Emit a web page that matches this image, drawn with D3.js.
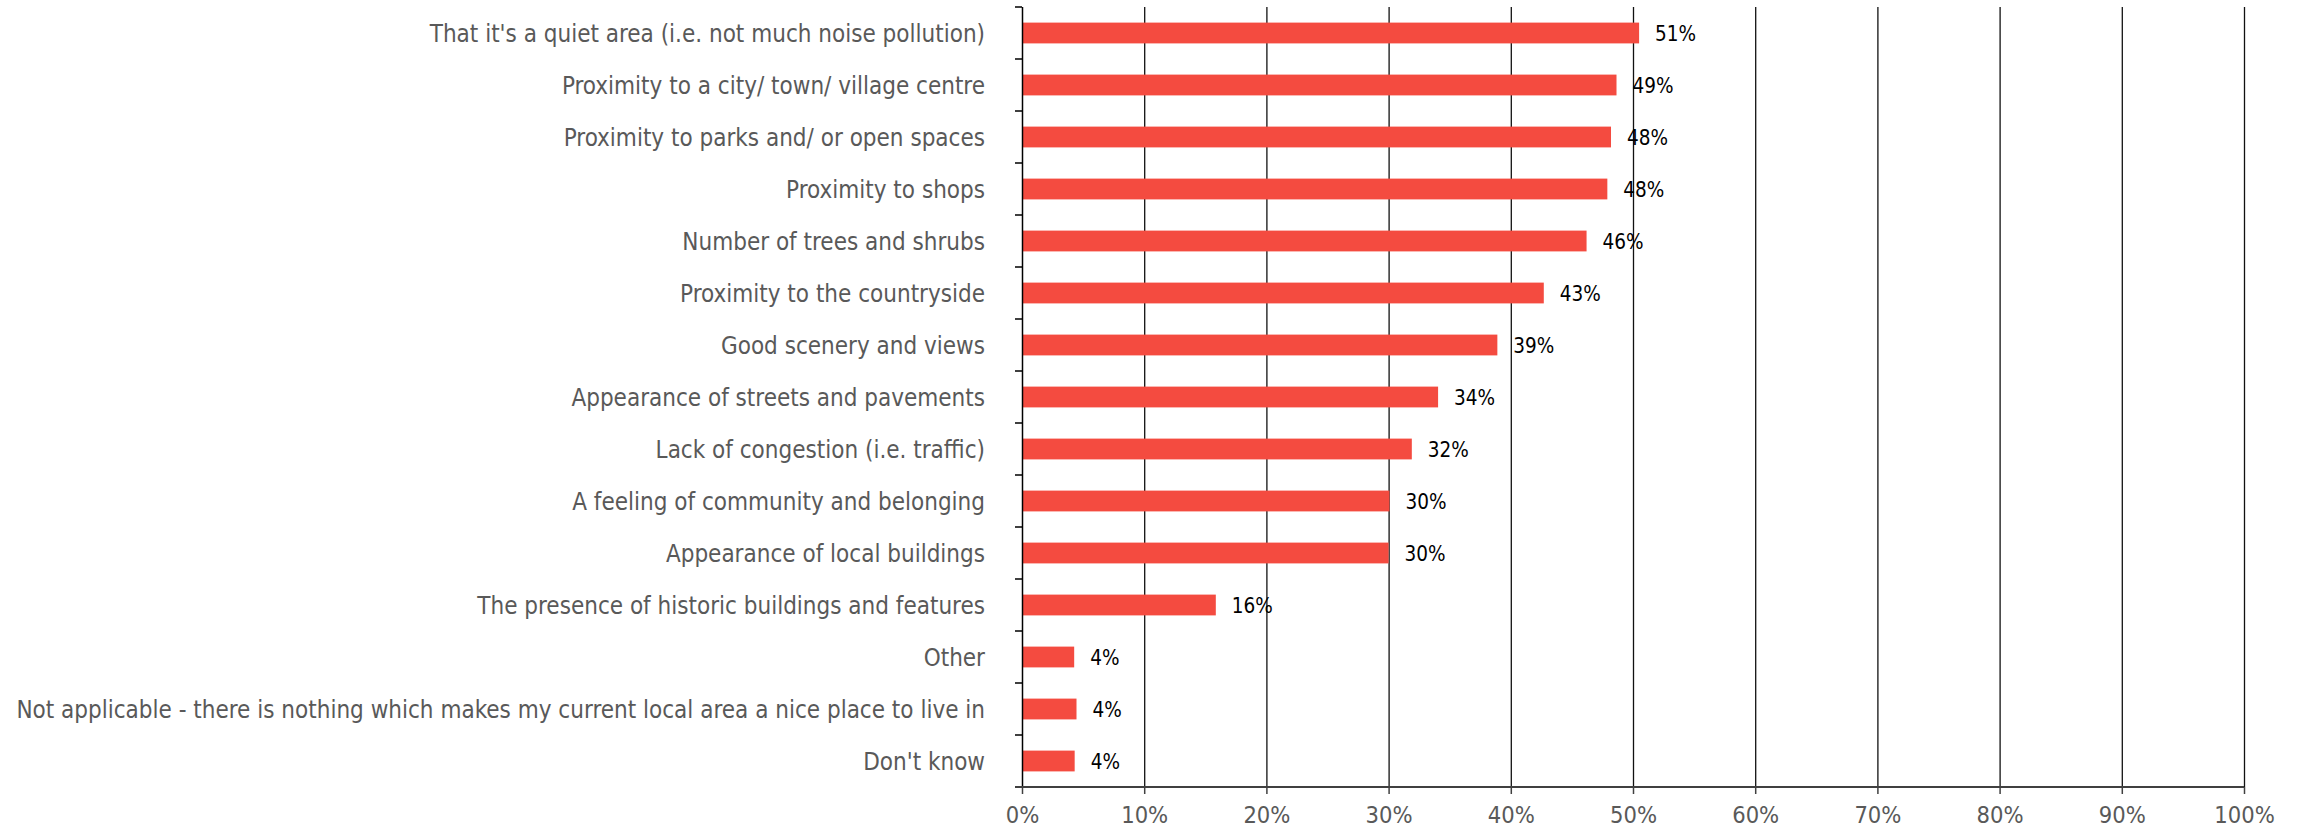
<!DOCTYPE html>
<html>
<head>
<meta charset="utf-8">
<script src="https://cdn.jsdelivr.net/npm/d3@7"></script>
<style>
  html, body { margin: 0; padding: 0; background: #fff; }
  svg { display: block; }
  text { font-family: "DejaVu Sans Condensed", "DejaVu Sans", sans-serif; }
</style>
</head>
<body>
<svg width="2300" height="828"></svg>
<script>
const categories = [
  "That it's a quiet area (i.e. not much noise pollution)",
  "Proximity to a city/ town/ village centre",
  "Proximity to parks and/ or open spaces",
  "Proximity to shops",
  "Number of trees and shrubs",
  "Proximity to the countryside",
  "Good scenery and views",
  "Appearance of streets and pavements",
  "Lack of congestion (i.e. traffic)",
  "A feeling of community and belonging",
  "Appearance of local buildings",
  "The presence of historic buildings and features",
  "Other",
  "Not applicable - there is nothing which makes my current local area a nice place to live in",
  "Don't know"
];

// share of respondents
const values = [0.505, 0.4865, 0.482, 0.479, 0.462, 0.427, 0.389, 0.3405, 0.319, 0.3007, 0.300, 0.1586, 0.0427, 0.0446, 0.0431];

// printed labels
const valueLabels = ["51%", "49%", "48%", "48%", "46%", "43%", "39%", "34%", "32%", "30%", "30%", "16%", "4%", "4%", "4%"];

const xTicks = [0, 0.1, 0.2, 0.3, 0.4, 0.5, 0.6, 0.7, 0.8, 0.9, 1.0];

var svg = d3.select("svg");

const x = d3.scaleLinear().domain([0, 1]).range([1022, 2244]);
const y = d3.scaleBand().domain(categories).range([7, 787]).padding(0);
const barH = y.bandwidth() * 0.4;

// vertical gridlines
svg.append("g")
  .selectAll("line")
  .data(xTicks.slice(1))
  .join("line")
    .attr("x1", d => x(d) + 0.5)
    .attr("x2", d => x(d) + 0.5)
    .attr("y1", y.range()[0])
    .attr("y2", y.range()[1])
    .attr("stroke", "#111")
    .attr("stroke-width", 1.3);

// bars
svg.append("g")
  .selectAll("rect")
  .data(values)
  .join("rect")
    .attr("x", x(0))
    .attr("y", (d, i) => y(categories[i]) + (y.bandwidth() - barH) / 2)
    .attr("width", d => x(d) - x(0))
    .attr("height", barH)
    .attr("fill", "#f44b40");

// value labels
svg.append("g")
  .selectAll("text")
  .data(values)
  .join("text")
    .attr("x", d => x(d) + 16)
    .attr("y", (d, i) => y(categories[i]) + y.bandwidth() / 2)
    .attr("dy", "0.37em")
    .attr("font-size", 20.5)
    .attr("fill", "#000")
    .text((d, i) => valueLabels[i]);

// y axis with ticks on band edges
const yAxis = svg.append("g").attr("transform", `translate(${x(0)},0)`);
yAxis.append("line")
  .attr("x1", 0.5).attr("x2", 0.5)
  .attr("y1", y.range()[0]).attr("y2", y.range()[1])
  .attr("stroke", "#000").attr("stroke-width", 1.5);
yAxis.selectAll(".edge")
  .data(categories.map(c => y(c)))
  .join("line")
    .attr("class", "edge")
    .attr("x1", -7).attr("x2", 0)
    .attr("y1", d => d).attr("y2", d => d)
    .attr("stroke", "#000").attr("stroke-width", 1.5);

// category labels
const catLabels = svg.append("g")
  .selectAll("text")
  .data(categories)
  .join("text")
    .attr("x", 985)
    .attr("y", d => y(d) + y.bandwidth() / 2)
    .attr("dy", "0.36em")
    .attr("text-anchor", "end")
    .attr("font-size", 20)
    .attr("fill", "#595959")
    .text(d => d);

// fit the label size to the width of the longest label in the picture
let widest = 0;
catLabels.each(function() { widest = Math.max(widest, this.getComputedTextLength()); });
const labelSize = Math.min(24, 20 * 971 / widest);
catLabels.attr("font-size", labelSize);

// bottom axis
const xAxis = d3.axisBottom(x)
  .tickValues(xTicks)
  .tickFormat(d3.format(".0%"))
  .tickSize(7)
  .tickSizeOuter(0)
  .tickPadding(12);

const gx = svg.append("g")
  .attr("transform", `translate(0,${y.range()[1]})`)
  .call(xAxis);
gx.select(".domain").remove();
gx.selectAll(".tick line").attr("stroke", "#404040").attr("stroke-width", 1.5);
gx.selectAll(".tick text")
  .attr("font-size", 23.5)
  .attr("font-family", null)
  .attr("fill", "#595959");
gx.append("line")
  .attr("x1", x(0) - 7).attr("x2", x(1))
  .attr("y1", 0).attr("y2", 0)
  .attr("stroke", "#404040").attr("stroke-width", 2.2);
</script>
</body>
</html>
